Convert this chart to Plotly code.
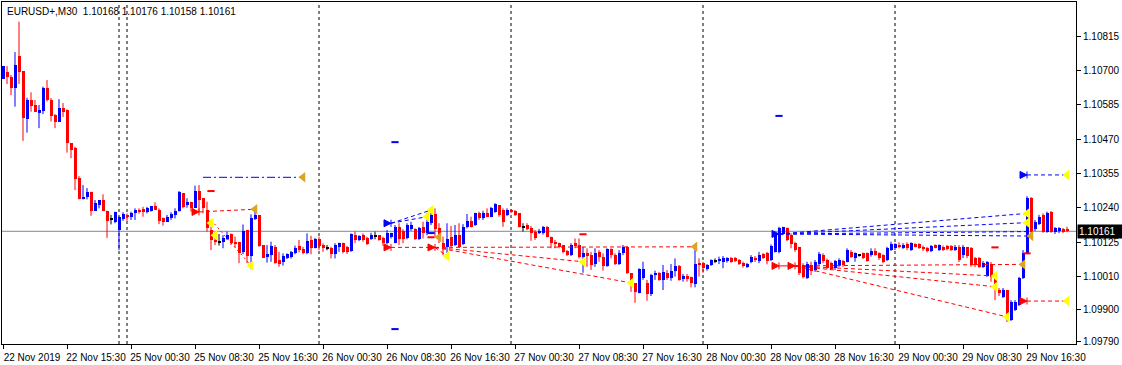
import plotly.graph_objects as go
import pandas as pd

# ---------------- data ----------------
chart_title = "EURUSD+,M30  1.10168 1.10176 1.10158 1.10161"
last_price = 1.10161

fri = pd.date_range("2019-11-22 07:30", "2019-11-22 21:30", freq="30min")
sun = pd.date_range("2019-11-24 23:00", "2019-11-24 23:30", freq="30min")
week = pd.date_range("2019-11-25 00:00", "2019-11-29 21:30", freq="30min")
bar_times = [t.strftime("%Y.%m.%d %H:%M") for t in list(fri) + list(sun) + list(week)]

open_ = [1.10672,1.10695,1.10678,1.10643,1.10749,1.10699,1.10539,1.10601,1.10585,1.10559,
1.10565,1.10641,1.10601,1.10551,1.10529,1.10573,1.10568,1.10456,1.10439,1.10341,
1.10268,1.10275,1.10294,1.10230,1.10249,1.10266,1.10230,1.10202,1.10193,1.10165,
1.10202,1.10216,1.10210,1.10221,1.10232,1.10235,1.10227,1.10230,1.10246,1.10233,
1.10207,1.10193,1.10204,1.10216,1.10229,1.10288,1.10249,1.10260,1.10240,1.10297,
1.10272,1.10232,1.10165,1.10132,1.10126,1.10126,1.10135,1.10151,1.10126,1.10126,
1.10090,1.10165,1.10079,1.10202,1.10216,1.10115,1.10076,1.10081,1.10109,1.10065,
1.10059,1.10070,1.10076,1.10087,1.10113,1.10102,1.10087,1.10132,1.10106,1.10135,
1.10115,1.10106,1.10104,1.10085,1.10107,1.10123,1.10107,1.10095,1.10148,1.10132,
1.10148,1.10139,1.10135,1.10146,1.10148,1.10137,1.10121,1.10141,1.10123,1.10176,
1.10162,1.10137,1.10168,1.10168,1.10135,1.10176,1.10154,1.10188,1.10219,1.10173,
1.10123,1.10107,1.10143,1.10115,1.10148,1.10117,1.10174,1.10196,1.10182,1.10223,
1.10204,1.10223,1.10210,1.10227,1.10249,1.10232,1.10216,1.10232,1.10229,1.10221,
1.10176,1.10182,1.10173,1.10160,1.10154,1.10154,1.10176,1.10143,1.10126,1.10123,
1.10115,1.10096,1.10081,1.10121,1.10115,1.10076,1.10089,1.10081,1.10051,1.10092,
1.10076,1.10045,1.10101,1.10081,1.10051,1.10087,1.10109,1.10020,1.09986,1.09955,
1.10003,1.09988,1.09951,1.10014,1.10022,1.09998,1.10022,1.10003,1.10029,1.10045,
1.10000,1.10011,1.10007,1.09984,1.10056,1.10056,1.10033,1.10048,1.10062,1.10062,
1.10059,1.10061,1.10070,1.10070,1.10065,1.10054,1.10040,1.10059,1.10072,1.10061,
1.10085,1.10087,1.10065,1.10092,1.10090,1.10151,1.10173,1.10148,1.10121,1.10109,
1.10048,1.10003,1.10048,1.10031,1.10050,1.10081,1.10065,1.10054,1.10039,1.10048,
1.10061,1.10059,1.10092,1.10072,1.10081,1.10087,1.10087,1.10081,1.10095,1.10087,
1.10081,1.10065,1.10098,1.10104,1.10115,1.10104,1.10117,1.10098,1.10117,1.10117,
1.10109,1.10106,1.10095,1.10115,1.10098,1.10109,1.10113,1.10112,1.10098,1.10109,
1.10081,1.10107,1.10104,1.10070,1.10070,1.10042,1.10012,1.10051,1.10011,1.09964,
1.09942,1.09964,1.09863,1.09897,1.09914,1.10003,1.10087,1.10274,1.10168,1.10185,
1.10216,1.10160,1.10227,1.10160,1.10162,1.10169,1.10168]

high = [1.10715,1.10715,1.10685,1.10762,1.10864,1.10699,1.10609,1.10627,1.10601,1.10585,
1.10646,1.10668,1.10608,1.10554,1.10604,1.10591,1.10570,1.10456,1.10445,1.10346,
1.10316,1.10306,1.10294,1.10266,1.10266,1.10285,1.10230,1.10216,1.10227,1.10210,
1.10225,1.10221,1.10227,1.10238,1.10238,1.10243,1.10243,1.10246,1.10258,1.10238,
1.10207,1.10216,1.10225,1.10238,1.10296,1.10288,1.10272,1.10260,1.10314,1.10316,
1.10272,1.10260,1.10176,1.10138,1.10152,1.10148,1.10160,1.10154,1.10143,1.10126,
1.10184,1.10165,1.10218,1.10243,1.10216,1.10115,1.10115,1.10126,1.10115,1.10092,
1.10087,1.10087,1.10095,1.10113,1.10132,1.10109,1.10154,1.10146,1.10139,1.10143,
1.10121,1.10115,1.10109,1.10121,1.10123,1.10123,1.10112,1.10154,1.10160,1.10148,
1.10154,1.10143,1.10156,1.10160,1.10148,1.10143,1.10165,1.10156,1.10182,1.10188,
1.10168,1.10188,1.10193,1.10171,1.10176,1.10193,1.10221,1.10232,1.10238,1.10188,
1.10143,1.10188,1.10179,1.10182,1.10188,1.10185,1.10219,1.10210,1.10223,1.10227,
1.10230,1.10238,1.10243,1.10255,1.10249,1.10238,1.10238,1.10235,1.10232,1.10221,
1.10188,1.10188,1.10179,1.10165,1.10169,1.10179,1.10179,1.10143,1.10132,1.10123,
1.10115,1.10098,1.10121,1.10137,1.10137,1.10109,1.10104,1.10092,1.10104,1.10098,
1.10087,1.10104,1.10104,1.10087,1.10098,1.10115,1.10112,1.10020,1.09986,1.10037,
1.10059,1.09998,1.10018,1.10029,1.10025,1.10048,1.10031,1.10051,1.10070,1.10048,
1.10018,1.10018,1.10009,1.10101,1.10070,1.10059,1.10051,1.10067,1.10070,1.10076,
1.10078,1.10074,1.10075,1.10075,1.10068,1.10059,1.10055,1.10081,1.10078,1.10092,
1.10088,1.10092,1.10117,1.10160,1.10176,1.10176,1.10174,1.10154,1.10126,1.10109,
1.10054,1.10059,1.10059,1.10065,1.10092,1.10087,1.10070,1.10059,1.10065,1.10070,
1.10065,1.10104,1.10098,1.10090,1.10084,1.10090,1.10090,1.10104,1.10104,1.10090,
1.10084,1.10109,1.10126,1.10121,1.10124,1.10121,1.10124,1.10124,1.10121,1.10121,
1.10113,1.10109,1.10115,1.10117,1.10117,1.10113,1.10115,1.10115,1.10115,1.10115,
1.10115,1.10109,1.10108,1.10075,1.10075,1.10061,1.10061,1.10058,1.10018,1.09971,
1.09971,1.09964,1.09930,1.09930,1.10008,1.10098,1.10279,1.10276,1.10199,1.10216,
1.10221,1.10227,1.10229,1.10175,1.10175,1.10172,1.10176]

low = [1.10672,1.10655,1.10618,1.10579,1.10655,1.10464,1.10492,1.10562,1.10562,1.10507,
1.10554,1.10596,1.10529,1.10507,1.10529,1.10545,1.10425,1.10406,1.10299,1.10268,
1.10268,1.10268,1.10213,1.10230,1.10238,1.10230,1.10139,1.10184,1.10188,1.10098,
1.10196,1.10196,1.10199,1.10199,1.10220,1.10210,1.10221,1.10227,1.10232,1.10185,
1.10180,1.10193,1.10199,1.10204,1.10227,1.10238,1.10240,1.10227,1.10240,1.10227,
1.10221,1.10160,1.10098,1.10115,1.10113,1.10104,1.10132,1.10115,1.10106,1.10054,
1.10084,1.10054,1.10034,1.10199,1.10109,1.10072,1.10056,1.10059,1.10052,1.10042,
1.10046,1.10068,1.10070,1.10084,1.10090,1.10084,1.10084,1.10084,1.10104,1.10098,
1.10092,1.10097,1.10070,1.10070,1.10092,1.10087,1.10085,1.10092,1.10121,1.10128,
1.10126,1.10115,1.10132,1.10134,1.10129,1.10112,1.10117,1.10137,1.10121,1.10115,
1.10121,1.10134,1.10163,1.10132,1.10132,1.10137,1.10148,1.10182,1.10143,1.10121,
1.10081,1.10076,1.10107,1.10112,1.10107,1.10115,1.10171,1.10174,1.10179,1.10199,
1.10199,1.10208,1.10208,1.10223,1.10210,1.10176,1.10212,1.10221,1.10212,1.10174,
1.10160,1.10165,1.10129,1.10132,1.10152,1.10150,1.10141,1.10104,1.10104,1.10104,
1.10087,1.10078,1.10078,1.10104,1.10070,1.10022,1.10042,1.10031,1.10042,1.10059,
1.10029,1.10042,1.10070,1.10048,1.10048,1.10081,1.10018,1.09958,1.09921,1.09953,
1.09998,1.09928,1.09944,1.09998,1.09995,1.09964,1.09998,1.09995,1.10009,1.09995,
1.09992,1.09992,1.09973,1.09973,1.10009,1.10022,1.10029,1.10045,1.10054,1.10051,
1.10037,1.10056,1.10055,1.10058,1.10048,1.10039,1.10038,1.10054,1.10058,1.10054,
1.10068,1.10050,1.10061,1.10090,1.10087,1.10148,1.10128,1.10104,1.10092,1.10014,
1.10003,1.10001,1.10014,1.10025,1.10048,1.10054,1.10034,1.10031,1.10031,1.10042,
1.10042,1.10057,1.10072,1.10059,1.10076,1.10068,1.10059,1.10076,1.10079,1.10065,
1.10054,1.10061,1.10095,1.10098,1.10104,1.10102,1.10098,1.10095,1.10107,1.10102,
1.10095,1.10090,1.10091,1.10104,1.10095,1.10095,1.10097,1.10095,1.10095,1.10058,
1.10071,1.10071,1.10042,1.10041,1.10038,1.10038,1.10008,1.09992,1.09930,1.09944,
1.09937,1.09857,1.09860,1.09894,1.09910,1.10001,1.10085,1.10145,1.10162,1.10182,
1.10156,1.10156,1.10156,1.10152,1.10155,1.10155,1.10158]

close = [1.10715,1.10677,1.10643,1.10718,1.10696,1.10542,1.10601,1.10582,1.10562,1.10568,
1.10643,1.10601,1.10549,1.10529,1.10573,1.10562,1.10456,1.10434,1.10336,1.10268,
1.10277,1.10292,1.10229,1.10255,1.10266,1.10230,1.10195,1.10202,1.10225,1.10208,
1.10219,1.10210,1.10223,1.10232,1.10226,1.10227,1.10238,1.10246,1.10232,1.10195,
1.10191,1.10210,1.10219,1.10230,1.10292,1.10243,1.10260,1.10240,1.10297,1.10266,
1.10238,1.10172,1.10132,1.10124,1.10126,1.10139,1.10148,1.10121,1.10117,1.10087,
1.10162,1.10079,1.10204,1.10216,1.10113,1.10072,1.10084,1.10113,1.10056,1.10050,
1.10079,1.10084,1.10090,1.10106,1.10098,1.10087,1.10128,1.10106,1.10135,1.10113,
1.10106,1.10106,1.10084,1.10115,1.10121,1.10090,1.10090,1.10151,1.10132,1.10146,
1.10132,1.10117,1.10148,1.10146,1.10132,1.10121,1.10154,1.10154,1.10176,1.10135,
1.10134,1.10182,1.10182,1.10135,1.10171,1.10154,1.10193,1.10216,1.10168,1.10148,
1.10107,1.10134,1.10112,1.10148,1.10109,1.10176,1.10196,1.10176,1.10223,1.10204,
1.10221,1.10210,1.10238,1.10252,1.10216,1.10193,1.10232,1.10227,1.10216,1.10174,
1.10176,1.10168,1.10156,1.10140,1.10163,1.10174,1.10143,1.10121,1.10118,1.10109,
1.10092,1.10081,1.10115,1.10112,1.10074,1.10089,1.10078,1.10048,1.10089,1.10074,
1.10045,1.10101,1.10081,1.10051,1.10089,1.10109,1.10020,1.09986,1.09958,1.10033,
1.10033,1.09951,1.10014,1.10022,1.09998,1.10025,1.10003,1.10029,1.10045,1.09998,
1.10011,1.10000,1.09988,1.10051,1.10048,1.10037,1.10048,1.10065,1.10062,1.10068,
1.10070,1.10070,1.10059,1.10061,1.10051,1.10046,1.10050,1.10076,1.10065,1.10081,
1.10072,1.10061,1.10113,1.10154,1.10173,1.10174,1.10132,1.10117,1.10098,1.10020,
1.10009,1.10050,1.10028,1.10059,1.10084,1.10061,1.10039,1.10034,1.10061,1.10065,
1.10048,1.10098,1.10076,1.10087,1.10081,1.10070,1.10061,1.10095,1.10081,1.10070,
1.10059,1.10104,1.10117,1.10117,1.10107,1.10115,1.10104,1.10121,1.10109,1.10106,
1.10101,1.10095,1.10113,1.10106,1.10115,1.10098,1.10101,1.10098,1.10108,1.10065,
1.10109,1.10078,1.10048,1.10048,1.10042,1.10056,1.10057,1.10009,1.09964,1.09954,
1.09964,1.09874,1.09925,1.09925,1.10003,1.10089,1.10274,1.10160,1.10193,1.10210,
1.10160,1.10221,1.10160,1.10171,1.10173,1.10160,1.10161]

price_ticks = [1.10815, 1.10700, 1.10585, 1.10470, 1.10355, 1.10240, 1.10125, 1.10010, 1.09900, 1.09790]
price_range = [1.09783, 1.10930]

time_ticks = ["2019.11.22 07:30", "2019.11.22 15:30", "2019.11.25 00:30", "2019.11.25 08:30",
              "2019.11.25 16:30", "2019.11.26 00:30", "2019.11.26 08:30", "2019.11.26 16:30",
              "2019.11.27 00:30", "2019.11.27 08:30", "2019.11.27 16:30", "2019.11.28 00:30",
              "2019.11.28 08:30", "2019.11.28 16:30", "2019.11.29 00:30", "2019.11.29 08:30",
              "2019.11.29 16:30"]
time_tick_labels = ["22 Nov 2019", "22 Nov 15:30", "25 Nov 00:30", "25 Nov 08:30", "25 Nov 16:30",
                    "26 Nov 00:30", "26 Nov 08:30", "26 Nov 16:30", "27 Nov 00:30", "27 Nov 08:30",
                    "27 Nov 16:30", "28 Nov 00:30", "28 Nov 08:30", "28 Nov 16:30", "29 Nov 00:30",
                    "29 Nov 08:30", "29 Nov 16:30"]

day_separators = ["2019.11.24 23:00", "2019.11.25 00:00", "2019.11.26 00:00",
                  "2019.11.27 00:00", "2019.11.28 00:00", "2019.11.29 00:00"]

# trade history lines: start time, start price, end time, end price, colour, dash
trade_lines = [
    ("2019.11.25 09:30", 1.10342, "2019.11.25 22:00", 1.10342, "blue", "dashdot"),
    ("2019.11.25 09:00", 1.10226, "2019.11.25 16:00", 1.10235, "red", "dash"),
    ("2019.11.25 10:30", 1.10199, "2019.11.25 15:30", 1.10046, "red", "dot"),
    ("2019.11.26 09:00", 1.10188, "2019.11.26 14:00", 1.10232, "blue", "dash"),
    ("2019.11.26 09:00", 1.10188, "2019.11.26 13:30", 1.10210, "blue", "dash"),
    ("2019.11.26 09:00", 1.10107, "2019.11.26 14:30", 1.10107, "red", "dash"),
    ("2019.11.26 14:30", 1.10107, "2019.11.27 23:00", 1.10109, "red", "dash"),
    ("2019.11.26 14:30", 1.10107, "2019.11.27 09:00", 1.10059, "red", "dash"),
    ("2019.11.26 14:30", 1.10107, "2019.11.27 15:00", 1.09988, "red", "dash"),
    ("2019.11.26 14:30", 1.10107, "2019.11.26 16:00", 1.10078, "red", "dash"),
    ("2019.11.28 09:30", 1.10152, "2019.11.29 16:30", 1.10221, "blue", "dash"),
    ("2019.11.28 09:30", 1.10152, "2019.11.29 16:30", 1.10190, "blue", "dash"),
    ("2019.11.28 09:30", 1.10152, "2019.11.29 16:30", 1.10160, "blue", "dash"),
    ("2019.11.28 09:30", 1.10152, "2019.11.29 17:00", 1.10145, "blue", "dash"),
    ("2019.11.28 09:30", 1.10045, "2019.11.28 11:30", 1.10045, "red", "solid"),
    ("2019.11.28 11:30", 1.10045, "2019.11.29 16:00", 1.10050, "red", "dash"),
    ("2019.11.28 11:30", 1.10045, "2019.11.29 12:30", 1.10011, "red", "dash"),
    ("2019.11.28 11:30", 1.10045, "2019.11.29 12:30", 1.09975, "red", "dash"),
    ("2019.11.28 11:30", 1.10045, "2019.11.29 14:00", 1.09874, "red", "dash"),
    ("2019.11.29 16:30", 1.10350, "2019.11.29 21:30", 1.10350, "blue", "dash"),
    ("2019.11.29 16:30", 1.09927, "2019.11.29 21:30", 1.09927, "red", "dash"),
]

open_arrows = [
    ("2019.11.25 09:00", 1.10226, "red"),
    ("2019.11.26 09:00", 1.10188, "blue"),
    ("2019.11.26 09:00", 1.10107, "red"),
    ("2019.11.26 14:30", 1.10107, "red"),
    ("2019.11.28 09:30", 1.10152, "blue"),
    ("2019.11.28 09:30", 1.10045, "red"),
    ("2019.11.28 11:30", 1.10045, "red"),
    ("2019.11.29 16:30", 1.10350, "blue"),
    ("2019.11.29 16:30", 1.09927, "red"),
]

close_marks = [
    ("2019.11.25 22:00", 1.10342, "gold"),
    ("2019.11.25 16:00", 1.10235, "gold"),
    ("2019.11.25 10:30", 1.10189, "yellow"),
    ("2019.11.25 11:00", 1.10148, "yellow"),
    ("2019.11.25 15:30", 1.10046, "yellow"),
    ("2019.11.26 14:00", 1.10232, "yellow"),
    ("2019.11.26 13:30", 1.10210, "yellow"),
    ("2019.11.26 15:00", 1.10141, "gold"),
    ("2019.11.26 16:00", 1.10078, "yellow"),
    ("2019.11.27 09:00", 1.10059, "yellow"),
    ("2019.11.27 15:00", 1.09988, "yellow"),
    ("2019.11.27 23:00", 1.10109, "gold"),
    ("2019.11.29 16:30", 1.10221, "yellow"),
    ("2019.11.29 16:30", 1.10190, "yellow"),
    ("2019.11.29 17:00", 1.10145, "gold"),
    ("2019.11.29 16:00", 1.10050, "gold"),
    ("2019.11.29 12:30", 1.10011, "yellow"),
    ("2019.11.29 12:30", 1.09975, "yellow"),
    ("2019.11.29 14:00", 1.09874, "yellow"),
    ("2019.11.29 21:30", 1.10350, "yellow"),
    ("2019.11.29 21:30", 1.09927, "yellow"),
]

level_marks = [
    ("2019.11.25 10:30", 1.10296, "red"),
    ("2019.11.26 14:00", 1.10141, "red"),
    ("2019.11.26 14:00", 1.10155, "blue"),
    ("2019.11.27 09:00", 1.10151, "red"),
    ("2019.11.29 12:30", 1.10107, "red"),
    ("2019.11.29 16:30", 1.10087, "red"),
    ("2019.11.26 09:30", 1.10460, "blue"),
    ("2019.11.26 09:30", 1.09833, "blue"),
    ("2019.11.28 09:30", 1.10548, "blue"),
]

# ---------------- styling ----------------
BULL = "#0000FF"
BEAR = "#FF0000"
DOJI = "#000000"
COL = {"blue": "#0000FF", "red": "#FF0000", "yellow": "#FFFF00", "gold": "#DAA520"}
FONT = "Liberation Sans, Arial, sans-serif"
MIN_BODY = 0.00003

pos = {t: i for i, t in enumerate(bar_times)}

fig = go.Figure()

# candle bodies
body_base, body_h, body_col = [], [], []
for o, c in zip(open_, close):
    if c > o:
        body_col.append(BULL)
    elif c < o:
        body_col.append(BEAR)
    else:
        body_col.append(DOJI)
    h = abs(c - o)
    if h < MIN_BODY:
        body_base.append((o + c) / 2 - MIN_BODY / 2)
        body_h.append(MIN_BODY)
    else:
        body_base.append(min(o, c))
        body_h.append(h)

fig.add_trace(go.Bar(x=bar_times, y=body_h, base=body_base, width=0.75,
                     marker=dict(color=body_col, line=dict(width=0)),
                     showlegend=False, hoverinfo="skip"))

# wicks
for col in (BULL, BEAR, DOJI):
    xs, ys = [], []
    for t, hi, lo, bc in zip(bar_times, high, low, body_col):
        if bc == col:
            xs += [t, t, None]
            ys += [lo, hi, None]
    fig.add_trace(go.Scatter(x=xs, y=ys, mode="lines", line=dict(color=col, width=1),
                             hoverinfo="skip", showlegend=False))

# trade lines
dash_map = {"dash": "4px,3px", "dot": "2px,3px", "dashdot": "8px,3px,2px,3px", "solid": "solid"}
for t0, p0, t1, p1, c, d in trade_lines:
    fig.add_trace(go.Scatter(x=[t0, t1], y=[p0, p1], mode="lines",
                             line=dict(color=COL[c], width=1, dash=dash_map[d]),
                             hoverinfo="skip", showlegend=False))

# level marks (short dashes)
for t, p, c in level_marks:
    i = pos[t]
    fig.add_shape(type="line", x0=i - 0.9, x1=i + 0.9, y0=p, y1=p, xref="x", yref="y",
                  line=dict(color=COL[c], width=2))

# open arrows
for c in ("blue", "red"):
    pts = [(t, p) for t, p, cc in open_arrows if cc == c]
    fig.add_trace(go.Scatter(x=[a for a, b in pts], y=[b for a, b in pts], mode="markers",
                             marker=dict(symbol="arrow-bar-right", size=7, color=COL[c],
                                         line=dict(width=1, color=COL[c])),
                             hoverinfo="skip", showlegend=False))

# close marks
for c in ("yellow", "gold"):
    pts = [(t, p) for t, p, cc in close_marks if cc == c]
    fig.add_trace(go.Scatter(x=[a for a, b in pts], y=[b for a, b in pts], mode="markers",
                             marker=dict(symbol="triangle-left", size=9, color=COL[c],
                                         line=dict(width=0)),
                             hoverinfo="skip", showlegend=False))

# period separators
for t in day_separators:
    i = pos[t]
    fig.add_shape(type="line", x0=i, x1=i, y0=0, y1=1, xref="x", yref="paper", layer="below",
                  line=dict(color="black", width=1, dash="3px,3px"))

# last price line
fig.add_shape(type="line", x0=0, x1=1, y0=last_price, y1=last_price, xref="paper", yref="y",
              layer="below", line=dict(color="#778899", width=1))

fig.add_annotation(text=f"{last_price:.5f}", x=1, xref="paper", y=last_price, yref="y",
                   xanchor="left", yanchor="middle", showarrow=False, xshift=1,
                   bgcolor="black", font=dict(color="white", size=10, family=FONT),
                   width=44, align="left", borderpad=1)

fig.add_annotation(text=chart_title, x=0, xref="paper", y=1, yref="paper",
                   xanchor="left", yanchor="top", showarrow=False, xshift=3, yshift=-2,
                   font=dict(color="black", size=10, family=FONT))

n = len(bar_times)
fig.update_layout(
    width=1122, height=365,
    margin=dict(l=2, r=46, t=2, b=21),
    paper_bgcolor="white", plot_bgcolor="white",
    showlegend=False, bargap=0,
    font=dict(family=FONT, size=10, color="black"),
    xaxis=dict(type="category", categoryorder="array", categoryarray=bar_times,
               range=[-0.25, n + 1.25], showgrid=False, zeroline=False,
               showline=True, linecolor="black", linewidth=1, mirror=True,
               ticks="outside", ticklen=4, tickcolor="black",
               tickvals=time_ticks, ticktext=time_tick_labels,
               tickfont=dict(size=10, family=FONT, color="black"),
               ticklabelshift=29, tickangle=0, automargin=False),
    yaxis=dict(side="right", range=price_range, showgrid=False, zeroline=False,
               showline=True, linecolor="black", linewidth=1, mirror=True,
               ticks="outside", ticklen=4, tickcolor="black",
               tickvals=price_ticks, ticktext=[f"{v:.5f}" for v in price_ticks],
               tickfont=dict(size=10, family=FONT, color="black"), automargin=False),
)

fig.write_html("out.html", config={"displayModeBar": False},
               post_script="document.body.style.margin='0';")
